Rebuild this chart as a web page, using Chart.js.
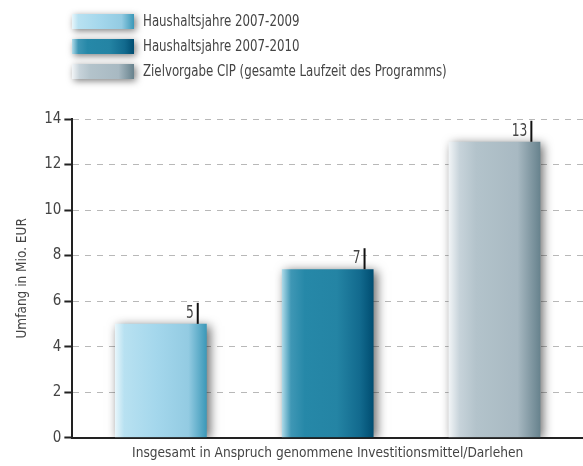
<!DOCTYPE html>
<html>
<head>
<meta charset="utf-8">
<script src="https://cdn.jsdelivr.net/npm/chart.js@4/dist/chart.umd.min.js"></script>
<style>
  body { margin: 0; background: #fff; }
  #wrap { width: 583px; height: 466px; position: relative; }
</style>
</head>
<body>
<div id="wrap"><canvas id="myChart"></canvas></div>
<script>
const categories = ['Insgesamt in Anspruch genommene Investitionsmittel/Darlehen'];
const seriesNames = ['Haushaltsjahre 2007-2009', 'Haushaltsjahre 2007-2010', 'Zielvorgabe CIP (gesamte Laufzeit des Programms)'];
const values2009 = [5];
const values2010 = [7.4];
const valuesTarget = [13];
const valueLabels = ['5', '7', '13'];
const yTicks = [0, 2, 4, 6, 8, 10, 12, 14];

// horizontal gradient stops per series
const gradients = [
    [[0, '#e8f6fb'], [0.1, '#b8e1f1'], [0.45, '#a4d7ec'], [0.8, '#93cbe2'], [1, '#3b98b8']],
    [[0, '#b0dbe9'], [0.1, '#3f97b5'], [0.25, '#2688a8'], [0.6, '#2484a4'], [0.85, '#126a8e'], [1, '#004d71']],
    [[0, '#f2f5f7'], [0.12, '#c7d3da'], [0.3, '#b3c3cb'], [0.75, '#a8b9c2'], [1, '#67828d']]
];

const FONT = "'DejaVu Sans Condensed', 'Liberation Sans Narrow', sans-serif";
Chart.defaults.font.family = FONT;
Chart.defaults.color = '#444';

function makeGradient(ctx, x0, x1, stops) {
    const g = ctx.createLinearGradient(x0, 0, x1, 0);
    stops.forEach(s => g.addColorStop(s[0], s[1]));
    return g;
}

// text squeezed horizontally, the original uses a narrow face
function narrowText(ctx, text, x, y, size, align, squeeze) {
    ctx.save();
    ctx.translate(x, y);
    ctx.scale(squeeze, 1);
    ctx.font = size + 'px ' + FONT;
    ctx.textAlign = align;
    ctx.fillText(text, 0, 0);
    ctx.restore();
}

const barStyle = {
    id: 'barStyle',
    beforeDatasetsDraw(chart) {
        chart.data.datasets.forEach((ds, i) => {
            chart.getDatasetMeta(i).data.forEach(el => {
                el.options.backgroundColor = makeGradient(chart.ctx, el.x - el.width / 2, el.x + el.width / 2, gradients[i]);
            });
        });
    },
    beforeDatasetDraw(chart) {
        const ctx = chart.ctx;
        ctx.save();
        ctx.shadowColor = 'rgba(0,0,0,0.6)';
        ctx.shadowBlur = 10;
        ctx.shadowOffsetX = 3;
        ctx.shadowOffsetY = 2;
    },
    afterDatasetDraw(chart) {
        chart.ctx.restore();
    },
    afterDatasetsDraw(chart) {
        const ctx = chart.ctx;
        ctx.save();
        chart.data.datasets.forEach((ds, i) => {
            chart.getDatasetMeta(i).data.forEach(el => {
                const tx = el.x + el.width / 2 - 9;
                ctx.strokeStyle = '#111';
                ctx.lineWidth = 2;
                ctx.beginPath();
                ctx.moveTo(tx, el.y);
                ctx.lineTo(tx, el.y - 21);
                ctx.stroke();
                ctx.fillStyle = '#444';
                ctx.textBaseline = 'alphabetic';
                narrowText(ctx, valueLabels[i], tx - 4, el.y - 6, 17, 'right', 0.8);
            });
        });
        ctx.restore();
    }
};

const topLegend = {
    id: 'topLegend',
    afterDraw(chart) {
        const ctx = chart.ctx;
        ctx.save();
        chart.data.datasets.forEach((ds, i) => {
            const x = 72, y = 14 + i * 25, w = 62, h = 15;
            ctx.save();
            ctx.shadowColor = 'rgba(0,0,0,0.5)';
            ctx.shadowBlur = 7;
            ctx.shadowOffsetX = 2;
            ctx.shadowOffsetY = 2;
            ctx.fillStyle = makeGradient(ctx, x, x + w, gradients[i]);
            ctx.fillRect(x, y, w, h);
            ctx.restore();
            ctx.fillStyle = '#444';
            ctx.textBaseline = 'middle';
            narrowText(ctx, ds.label, x + 71, y + h / 2, 16, 'left', 0.82);
        });
        ctx.restore();
    }
};

new Chart(document.getElementById('myChart'), {
    type: 'bar',
    data: {
        labels: categories,
        datasets: [
            { label: seriesNames[0], data: values2009 },
            { label: seriesNames[1], data: values2010 },
            { label: seriesNames[2], data: valuesTarget }
        ]
    },
    options: {
        responsive: true,
        maintainAspectRatio: false,
        animation: false,
        layout: { padding: { top: 119, right: 0, left: 10, bottom: 4 } },
        datasets: {
            bar: { barPercentage: 0.55, categoryPercentage: 0.98, borderWidth: 0 }
        },
        plugins: {
            legend: { display: false },
            tooltip: { enabled: false }
        },
        scales: {
            x: {
                grid: { display: false },
                border: { display: true, color: '#222', width: 2 },
                ticks: { font: { size: 13.6 }, color: '#444', padding: 0 }
            },
            y: {
                min: 0,
                max: 14,
                afterBuildTicks(axis) { axis.ticks = yTicks.map(v => ({ value: v })); },
                ticks: { font: { size: 15 }, color: '#444', padding: 3 },
                grid: { color: '#b8b8b8', lineWidth: 1, tickColor: '#222', tickLength: 8, tickWidth: 2, tickBorderDash: [] },
                border: { color: '#222', width: 2, dash: [6, 6] },
                title: { display: true, text: 'Umfang in Mio. EUR', font: { size: 13.5 }, color: '#444', padding: { bottom: 11 } }
            }
        }
    },
    plugins: [barStyle, topLegend]
});
</script>
</body>
</html>
